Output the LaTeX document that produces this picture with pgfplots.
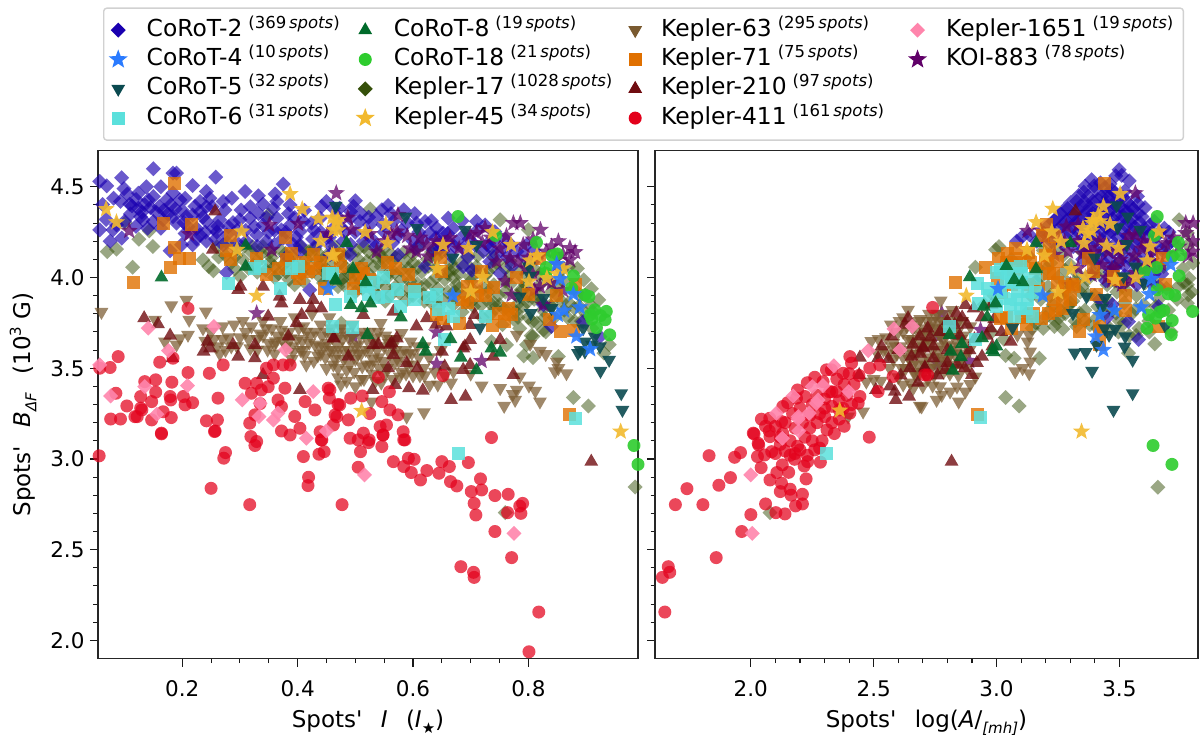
\documentclass[border=0pt]{standalone}
\usepackage{fontspec}
\setmainfont{DejaVu Sans}[Ligatures=TeXOff]
\usepackage{pgfplots}
\pgfplotsset{compat=1.18}

\definecolor{cA}{HTML}{1A00B0}
\definecolor{cB}{HTML}{2A7BFF}
\definecolor{cC}{HTML}{0B4A50}
\definecolor{cD}{HTML}{5BE0DC}
\definecolor{cE}{HTML}{006A2A}
\definecolor{cF}{HTML}{2ECC2E}
\definecolor{cG}{HTML}{35500A}
\definecolor{cH}{HTML}{F2B92E}
\definecolor{cI}{HTML}{7A5A30}
\definecolor{cJ}{HTML}{E07000}
\definecolor{cK}{HTML}{700C10}
\definecolor{cL}{HTML}{E3001B}
\definecolor{cM}{HTML}{FF85AC}
\definecolor{cN}{HTML}{600068}

% filled five-pointed star, the library's "star" is only rays
\pgfdeclareplotmark{fstar}{%
  \pgfpathmoveto{\pgfpointpolar{90}{\pgfplotmarksize}}%
  \pgfpathlineto{\pgfpointpolar{126}{.42\pgfplotmarksize}}%
  \pgfpathlineto{\pgfpointpolar{162}{\pgfplotmarksize}}%
  \pgfpathlineto{\pgfpointpolar{198}{.42\pgfplotmarksize}}%
  \pgfpathlineto{\pgfpointpolar{234}{\pgfplotmarksize}}%
  \pgfpathlineto{\pgfpointpolar{270}{.42\pgfplotmarksize}}%
  \pgfpathlineto{\pgfpointpolar{306}{\pgfplotmarksize}}%
  \pgfpathlineto{\pgfpointpolar{342}{.42\pgfplotmarksize}}%
  \pgfpathlineto{\pgfpointpolar{18}{\pgfplotmarksize}}%
  \pgfpathlineto{\pgfpointpolar{54}{.42\pgfplotmarksize}}%
  \pgfpathclose
  \pgfusepathqfillstroke
}

\pgfplotsset{
  mk/.style n args={5}{only marks,mark=#1,mark size=#2,
    mark options={rotate=#3,draw=#4,fill=#4,line width=0.2pt,fill opacity=#5,draw opacity=0}},
  corot2/.style={mk={square*}{5.3pt}{45}{cA}{#1}},
  corot4/.style={mk={fstar}{9pt}{0}{cB}{#1}},
  corot5/.style={mk={triangle*}{8pt}{180}{cC}{#1}},
  corot6/.style={mk={square*}{6.5pt}{0}{cD}{#1}},
  corot8/.style={mk={triangle*}{8pt}{0}{cE}{#1}},
  corot18/.style={mk={*}{6.5pt}{0}{cF}{#1}},
  kep17/.style={mk={square*}{5.3pt}{45}{cG}{#1}},
  kep45/.style={mk={fstar}{9pt}{0}{cH}{#1}},
  kep63/.style={mk={triangle*}{8pt}{180}{cI}{#1}},
  kep71/.style={mk={square*}{6.5pt}{0}{cJ}{#1}},
  kep210/.style={mk={triangle*}{8pt}{0}{cK}{#1}},
  kep411/.style={mk={*}{6.5pt}{0}{cL}{#1}},
  kep1651/.style={mk={square*}{5.3pt}{45}{cM}{#1}},
  koi883/.style={mk={fstar}{9pt}{0}{cN}{#1}},
  panel/.style={
    scale only axis,
    width=#1,height=508pt,
    ymin=1.9,ymax=4.7,
    ytick={2,2.5,3,3.5,4,4.5},
    yticklabel style={/pgf/number format/fixed,/pgf/number format/fixed zerofill,/pgf/number format/precision=1},
    xticklabel style={/pgf/number format/fixed,/pgf/number format/fixed zerofill},
    /pgf/number format/assume math mode=true,
    minor y tick num=4,
    tick align=outside,
    xtick pos=lower,ytick pos=left,
    major tick length=8pt,minor tick length=4.5pt,
    every tick/.style={line width=1.3pt,black!90},
    minor tick style={line width=1.1pt,black!90},
    axis line style={line width=1.6pt,black!85},
    tick label style={font=\fontsize{21.5}{26}\selectfont},
    label style={font=\fontsize{23}{27}\selectfont},
    xticklabel shift=11pt,xlabel shift=6pt,
    yticklabel shift=2pt,ylabel shift=7pt,
  },
}
\newcommand{\spots}[1]{\hspace{6pt}\raisebox{8pt}{\fontsize{16.5}{16.5}\selectfont (#1\,\textit{spots})}}
\newcommand{\lowered}[1]{\raisebox{-.25em}{\fontsize{15}{15}\selectfont #1}}

\begin{document}
\begin{tikzpicture}[x=1pt,y=1pt]
\path[use as bounding box] (0,0) rectangle (1200,740);

% left panel: spots' intensity
\begin{axis}[panel=540pt,
    at={(98pt,81.5pt)},anchor=south west,
    xmin=0.054,xmax=0.99,
    xtick={0.2,0.4,0.6,0.8},
    xticklabel style={/pgf/number format/precision=1},
    minor x tick num=3,
    xlabel={Spots'\hspace{.8em}\textit{I}\hspace{.8em}(\textit{I}\lowered{★})},
    ylabel={Spots'\hspace{.8em}\textit{B}\lowered{\textit{ΔF}}\hspace{.8em}(10\raisebox{.42em}{\fontsize{15}{15}\selectfont 3} G)},
    legend columns=4,transpose legend,
    legend style={at={(0.0093,1.2815)},anchor=north west,
      draw=black!18,line width=1.4pt,rounded corners=3pt,
      inner xsep=5pt,inner ysep=10pt,
      font=\fontsize{23.4}{27}\selectfont,
      nodes={inner sep=0pt,text height=18pt,text depth=6pt},
      row sep=5.3pt,
      cells={anchor=west},
      /tikz/every even column/.append style={column sep=16pt},
      /tikz/every odd column/.append style={column sep=19pt},
    },
]
\addlegendimage{corot2=1}\addlegendentry{CoRoT-2\spots{369}}
\addlegendimage{corot4=1,mark size=10pt}\addlegendentry{CoRoT-4\spots{10}}
\addlegendimage{corot5=1}\addlegendentry{CoRoT-5\spots{32}}
\addlegendimage{corot6=1}\addlegendentry{CoRoT-6\spots{31}}
\addlegendimage{corot8=1}\addlegendentry{CoRoT-8\spots{19}}
\addlegendimage{corot18=1}\addlegendentry{CoRoT-18\spots{21}}
\addlegendimage{kep17=1}\addlegendentry{Kepler-17\spots{1028}}
\addlegendimage{kep45=1,mark size=10pt}\addlegendentry{Kepler-45\spots{34}}
\addlegendimage{kep63=1}\addlegendentry{Kepler-63\spots{295}}
\addlegendimage{kep71=1}\addlegendentry{Kepler-71\spots{75}}
\addlegendimage{kep210=1}\addlegendentry{Kepler-210\spots{97}}
\addlegendimage{kep411=1}\addlegendentry{Kepler-411\spots{161}\hspace{8pt}\mbox{}}
\addlegendimage{kep1651=1}\addlegendentry{Kepler-1651\spots{19}\hspace{5pt}\mbox{}}
\addlegendimage{koi883=1,mark size=10pt}\addlegendentry{KOI-883\spots{78}}
\addlegendimage{empty legend}\addlegendentry{}
\addlegendimage{empty legend}\addlegendentry{}

\addplot[kep17=.5,forget plot] coordinates {
(.07,4.143)(.086,4.156)(.125,4.211)(.149,4.171)(.114,4.057)(.143,4.257)(.101,4.3)(.254,4.037)(.236,4.097)(.246,4.06)(.3,4.006)(.395,3.96)(.349,4.345)(.526,4.377)(.751,4.318)(.8,4.263)(.896,3.987)(.909,3.938)(.922,3.877)(.94,3.63)(.931,3.583)(.878,3.338)(.904,3.292)(.792,3.568)(.808,3.559)(.852,3.564)(.736,3.647)(.762,3.629)(.797,3.629)(.808,3.675)(.826,3.71)(.476,3.748)(.985,2.845)(.76,2.704)
(.26,4.17)(.275,4.12)(.285,4.08)(.295,4.16)(.305,4.1)(.315,4.05)(.32,4.14)(.33,4.09)(.34,4.17)(.345,4.04)(.355,4.11)(.36,4.0)(.37,4.15)(.375,4.07)(.385,3.99)(.39,4.12)(.4,4.05)(.405,4.17)(.41,3.98)(.415,4.1)(.425,4.03)(.43,4.16)(.44,4.07)(.445,3.97)(.45,4.12)(.46,4.02)(.465,4.17)(.47,3.95)(.475,4.08)(.48,4.0)(.49,4.14)(.495,4.05)(.5,3.92)(.505,4.1)(.51,3.98)(.515,4.17)(.52,4.03)(.53,3.93)(.535,4.11)(.54,3.97)(.545,4.06)(.55,4.16)(.555,4.0)(.56,3.9)(.565,4.09)(.57,3.95)(.58,4.04)(.585,4.14)(.59,3.88)(.595,3.98)(.6,4.08)(.605,3.93)(.61,4.17)(.615,4.03)(.62,3.87)(.625,4.1)(.63,3.97)(.635,3.9)(.64,4.05)(.645,3.84)(.65,4.14)(.655,3.99)(.66,3.92)(.665,4.08)(.67,3.85)(.675,3.96)(.68,4.02)(.685,3.81)(.69,3.9)(.695,4.12)(.7,3.98)(.705,3.84)(.71,4.06)(.715,3.92)(.72,3.78)(.725,4.01)(.73,3.87)(.735,3.8)(.74,3.96)(.745,4.08)(.75,3.85)(.755,3.74)(.76,3.92)(.765,3.82)(.77,4.02)(.775,3.77)(.78,3.9)(.785,3.72)(.79,3.84)(.795,3.96)(.8,3.78)(.805,3.68)(.81,3.88)(.815,3.75)(.82,4.02)(.825,3.82)(.83,3.7)(.84,3.92)(.845,3.78)(.85,4.12)(.86,3.98)(.87,3.86)(.88,3.76)(.885,4.05)(.89,3.9)(.9,3.8)(.91,3.72)
(.42,4.14)(.44,4.12)(.48,4.12)(.52,4.09)(.54,4.14)(.57,4.11)(.6,4.13)(.64,4.11)(.66,4.02)(.7,4.05)(.73,4.03)(.76,4.05)(.79,4.0)(.82,3.96)(.46,4.09)(.5,4.02)(.56,4.03)(.62,3.96)(.68,3.94)(.74,3.86)(.78,3.85)(.6,3.9)(.54,3.9)(.48,3.96)(.44,4.0)(.38,4.03)(.36,4.06)(.33,4.03)
(.263,4.113)(.278,4.192)(.291,4.047)(.308,4.174)(.323,4.067)(.337,4.132)(.352,4.083)(.367,4.021)(.379,4.133)(.392,4.076)(.407,4.022)(.418,4.142)(.433,4.095)(.449,4.048)(.457,3.983)(.468,4.118)(.483,4.056)(.497,3.976)(.507,4.054)(.523,4.143)(.533,3.987)(.547,4.112)(.553,3.948)(.568,4.026)(.577,3.914)(.588,4.093)(.598,4.024)(.607,3.967)(.618,3.908)(.627,4.062)(.637,4.148)(.643,3.938)(.652,3.876)(.663,4.04)(.672,3.922)(.683,4.08)(.692,3.862)(.703,3.935)(.712,4.12)(.718,3.848)(.728,3.952)(.738,4.06)(.748,3.904)(.758,3.826)(.768,3.962)(.778,3.812)(.788,3.934)(.798,3.864)(.807,3.756)(.818,3.902)(.828,3.778)(.838,3.846)(.848,3.95)(.858,3.868)(.868,3.78)(.878,3.94)(.888,3.842)(.898,3.9)(.908,3.846)(.858,4.042)(.835,3.99)(.87,4.06)(.812,4.042)(.788,4.046)(.768,4.09)(.738,4.12)(.712,4.03)(.672,4.05)(.632,4.14)(.592,4.05)(.562,4.13)(.532,4.06)(.503,4.15)(.472,4.13)(.443,4.04)(.412,4.06)(.382,4.09)(.352,4.14)(.322,4.17)(.293,4.12)
(.476,3.99)(.512,3.94)(.552,3.87)(.592,3.94)(.632,3.86)(.672,3.89)(.702,3.87)(.742,3.83)(.782,3.78)(.822,3.87)(.862,3.82)(.892,3.76)(.912,3.81)(.52,3.97)(.58,3.99)(.64,4.0)(.7,4.0)(.76,3.98)(.8,3.9)(.84,3.84)(.49,4.02)(.55,4.09)(.61,4.06)(.67,4.0)(.73,3.92)(.79,3.93)(.85,3.9)(.88,3.83)
};
\addplot[corot2=.65,forget plot] coordinates {
(.15,4.6)(.184,4.575)(.19,4.575)(.258,4.553)(.095,4.55)(.069,4.505)(.057,4.53)(.099,4.49)(.163,4.5)(.218,4.507)(.242,4.474)(.309,4.474)(.375,4.515)(.332,4.45)(.361,4.46)(.124,4.465)(.15,4.447)(.184,4.465)(.205,4.437)(.081,4.437)(.093,4.42)(.109,4.404)(.124,4.382)(.141,4.428)(.173,4.428)(.196,4.428)(.231,4.419)(.248,4.437)(.286,4.437)(.271,4.419)(.34,4.404)(.387,4.4)(.364,4.419)(.242,4.39)(.231,4.364)(.218,4.345)(.207,4.336)(.132,4.318)(.15,4.309)(.167,4.318)(.184,4.336)(.057,4.263)(.086,4.29)(.075,4.2)(.095,4.217)(.08,4.263)(.179,4.147)(.199,4.18)(.231,4.235)(.254,4.272)(.277,4.235)(.242,4.309)(.265,4.318)(.3,4.318)(.317,4.327)(.34,4.29)(.364,4.327)(.387,4.29)(.404,4.254)(.424,4.3)(.329,4.235)(.311,4.2)(.218,4.18)(.242,4.2)(.271,4.18)(.346,4.2)(.375,4.217)(.404,4.18)(.433,4.18)(.277,4.028)(.421,3.932)(.45,4.419)(.462,4.382)(.439,4.327)(.462,4.272)(.456,4.125)(.381,4.116)(.404,4.143)
(.5,4.423)(.492,4.364)(.473,4.382)(.557,4.397)(.546,4.373)(.584,4.373)(.525,4.29)(.508,4.309)(.491,4.327)(.537,4.336)(.566,4.309)(.606,4.3)(.621,4.309)(.641,4.272)(.661,4.327)(.67,4.272)(.629,4.245)(.652,4.245)(.71,4.309)(.725,4.29)(.687,4.16)(.707,4.18)(.676,4.2)(.722,4.143)(.745,4.125)(.756,4.16)(.733,4.088)(.751,4.024)(.687,4.06)(.702,4.04)(.621,4.06)(.574,4.125)(.491,4.125)(.514,4.2)(.479,4.2)(.6,4.2)(.647,4.16)(.797,4.18)(.78,4.143)(.814,4.107)(.826,3.85)(.84,3.73)(.895,3.757)(.924,3.674)
(.12,4.43)(.135,4.4)(.16,4.39)(.18,4.4)(.2,4.37)(.11,4.35)(.13,4.36)(.155,4.36)(.175,4.35)(.19,4.3)(.21,4.28)(.225,4.27)(.24,4.25)(.26,4.25)(.28,4.28)(.295,4.26)(.31,4.26)(.325,4.28)(.35,4.25)(.36,4.26)(.38,4.25)(.395,4.33)(.41,4.31)(.44,4.25)(.45,4.22)(.475,4.28)(.5,4.25)(.52,4.24)(.55,4.25)(.58,4.26)(.61,4.25)(.64,4.22)(.66,4.2)(.69,4.24)(.74,4.2)(.76,4.21)(.77,4.18)(.79,4.12)(.81,4.15)
(.113,4.395)(.128,4.335)(.145,4.385)(.168,4.372)(.188,4.378)(.203,4.302)(.222,4.392)(.236,4.333)(.252,4.39)(.262,4.282)(.274,4.372)(.288,4.302)(.302,4.372)(.318,4.39)(.332,4.352)(.346,4.33)(.358,4.38)(.372,4.262)(.384,4.352)(.398,4.222)(.412,4.37)(.428,4.262)(.442,4.392)(.455,4.222)(.468,4.34)(.482,4.252)(.497,4.392)(.51,4.352)(.523,4.332)(.532,4.202)(.548,4.292)(.562,4.352)(.575,4.232)(.59,4.302)(.603,4.352)(.618,4.202)(.632,4.312)(.645,4.192)(.66,4.242)(.672,4.172)(.685,4.312)(.697,4.212)(.712,4.262)(.728,4.182)(.742,4.252)(.735,4.162)(.763,4.112)(.772,4.062)(.695,4.112)(.665,4.122)(.635,4.152)(.605,4.162)(.565,4.192)(.535,4.172)(.492,4.182)(.458,4.172)(.426,4.212)(.392,4.182)(.36,4.182)(.33,4.172)(.295,4.192)(.258,4.212)(.225,4.212)(.205,4.242)(.163,4.272)(.14,4.272)(.12,4.282)(.1,4.31)(.068,4.32)(.062,4.402)(.105,4.46)(.138,4.5)
};
\addplot[koi883=.75,forget plot] coordinates {
(.467,4.465)(.108,4.257)(.212,4.239)(.351,4.29)(.355,4.153)(.401,4.296)(.329,3.803)(.496,3.675)(.574,4.345)(.494,4.263)(.537,4.143)(.595,4.16)(.572,4.254)(.624,4.18)(.626,4.116)(.606,4.143)(.71,4.245)(.725,4.272)(.641,3.698)(.641,3.524)(.719,3.54)(.771,3.904)(.774,4.3)(.786,4.3)(.821,4.263)(.84,4.171)(.872,4.162)(.881,4.14)(.745,4.088)(.782,4.088)(.768,4.107)(.791,4.18)(.82,3.95)(.826,3.85)(.86,4.125)(.872,4.097)(.831,4.143)(.808,4.014)(.664,4.217)(.699,4.235)(.525,4.24)(.55,4.2)(.59,4.23)(.64,4.2)(.68,4.16)(.72,4.19)(.75,4.16)(.8,4.11)(.85,4.07)(.795,4.05)(.84,3.97)(.86,3.93)(.76,3.98)(.81,3.93)(.452,4.24)(.487,4.33)(.562,4.24)(.612,4.22)(.655,4.18)(.735,4.22)(.762,4.23)(.808,4.21)(.852,4.2)(.828,4.02)
};
\addplot[kep63=.72,forget plot] coordinates {
(.06,3.81)(.181,3.846)(.207,3.877)(.212,3.767)(.241,3.812)(.153,3.767)(.17,3.647)(.196,3.665)(.21,3.684)(.19,3.63)(.236,3.72)(.544,3.748)(.58,3.693)(.596,3.647)(.598,3.583)(.577,3.454)(.619,3.257)(.589,3.233)(.528,3.316)(.67,3.482)(.719,3.404)(.751,3.39)(.785,3.454)(.801,3.404)(.812,3.375)(.82,3.316)(.758,3.292)(.777,3.325)(.78,3.38)(.773,3.357)(.803,3.634)(.83,3.577)(.82,3.595)(.849,3.537)(.852,3.5)(.866,3.472)(.846,3.482)(.78,3.684)(.629,3.408)(.643,3.41)(.666,3.42)(.62,3.46)(.655,3.46)(.7,3.47)
(.24,3.65)(.25,3.7)(.26,3.62)(.27,3.73)(.265,3.58)(.28,3.67)(.29,3.74)(.295,3.62)(.31,3.7)(.315,3.66)(.32,3.73)(.33,3.6)(.335,3.69)(.34,3.76)(.35,3.64)(.355,3.72)(.36,3.58)(.365,3.68)(.37,3.76)(.38,3.62)(.385,3.7)(.39,3.55)(.395,3.78)(.4,3.66)(.405,3.6)(.41,3.73)(.415,3.52)(.42,3.64)(.425,3.8)(.43,3.7)(.435,3.57)(.44,3.74)(.445,3.62)(.45,3.5)(.455,3.78)(.46,3.67)(.465,3.55)(.47,3.45)(.475,3.72)(.48,3.6)(.485,3.49)(.49,3.66)(.495,3.74)(.5,3.55)(.505,3.63)(.51,3.44)(.515,3.7)(.52,3.52)(.525,3.6)(.53,3.47)(.535,3.67)(.54,3.56)(.545,3.42)(.55,3.62)(.555,3.5)(.56,3.58)(.565,3.44)(.57,3.66)(.575,3.54)(.58,3.48)(.585,3.6)(.59,3.52)(.6,3.46)(.61,3.56)(.62,3.62)
(.34,3.68)(.38,3.67)(.41,3.6)(.44,3.58)(.47,3.62)(.5,3.62)(.52,3.66)(.56,3.66)(.45,3.7)(.39,3.62)(.36,3.63)(.43,3.63)(.48,3.55)(.51,3.58)(.46,3.6)(.49,3.52)(.53,3.55)(.57,3.6)(.33,3.66)(.3,3.67)(.27,3.66)(.55,3.46)(.47,3.5)(.485,3.43)(.5,3.4)
(.348,3.602)(.362,3.648)(.372,3.712)(.388,3.665)(.402,3.72)(.412,3.572)(.422,3.68)(.438,3.62)(.448,3.56)(.458,3.72)(.468,3.58)(.478,3.66)(.488,3.6)(.498,3.48)(.508,3.68)(.518,3.6)(.528,3.52)(.538,3.6)(.548,3.54)(.558,3.64)(.568,3.53)(.578,3.58)(.588,3.47)(.598,3.52)(.608,3.62)(.618,3.5)(.628,3.56)(.638,3.48)(.648,3.6)(.392,3.588)(.408,3.65)(.428,3.54)(.442,3.68)(.452,3.64)(.472,3.68)(.482,3.7)(.492,3.58)(.512,3.51)(.532,3.64)(.542,3.5)(.552,3.68)(.462,3.52)(.475,3.41)(.515,3.44)(.535,3.43)(.318,3.61)(.305,3.76)(.285,3.62)(.275,3.6)(.255,3.66)(.345,3.72)(.375,3.65)(.415,3.7)(.455,3.6)(.495,3.68)(.505,3.58)(.525,3.7)(.54,3.7)(.565,3.62)(.592,3.58)(.612,3.46)
};
\addplot[kep210=.8,forget plot] coordinates {
(.257,4.364)(.253,4.153)(.34,3.95)(.297,3.932)(.301,3.95)(.369,3.895)(.372,3.858)(.404,3.877)(.427,3.877)(.424,3.831)(.407,3.794)(.441,3.83)(.349,3.785)(.398,3.748)(.134,3.776)(.158,3.743)(.179,3.68)(.237,3.592)(.244,3.647)(.248,3.61)(.288,3.629)(.297,3.564)(.326,3.629)(.326,3.555)(.183,3.555)(.384,3.675)(.462,3.665)(.34,3.463)(.404,3.38)
(.514,3.794)(.624,3.776)(.606,3.73)(.658,3.73)(.707,3.794)(.699,3.739)(.699,3.656)(.687,3.61)(.751,3.656)(.65,3.592)(.655,3.509)(.687,3.491)(.699,3.518)(.739,3.564)(.774,3.463)(.589,3.528)(.608,3.5)(.557,3.5)(.569,3.408)(.593,3.39)(.617,3.377)(.666,3.325)(.691,3.344)(.53,3.38)(.572,3.665)(.563,3.638)(.531,3.629)(.566,3.574)(.488,3.564)(.463,3.665)(.909,2.985)(.566,3.812)(.56,3.63)(.54,3.63)(.64,3.74)(.69,3.62)
};
\addplot[kep411=.72,forget plot] coordinates {
(.089,3.564)(.075,3.504)(.057,3.5)(.161,3.533)(.184,3.555)(.21,3.476)(.247,3.472)(.271,3.518)(.21,3.83)(.135,3.426)(.154,3.436)(.182,3.423)(.085,3.362)(.154,3.368)(.128,3.344)(.179,3.344)(.202,3.344)(.262,3.335)(.104,3.292)(.128,3.28)(.147,3.316)(.18,3.325)(.205,3.298)(.218,3.31)(.13,3.27)(.118,3.233)(.122,3.233)(.147,3.215)(.167,3.26)(.181,3.228)(.076,3.22)(.093,3.22)(.242,3.21)(.261,3.215)(.257,3.154)(.164,3.142)(.309,3.417)(.329,3.417)(.32,3.362)(.349,3.398)(.358,3.445)(.346,3.5)(.358,3.518)(.375,3.518)(.387,3.518)(.337,3.38)(.378,3.39)(.366,3.325)(.372,3.288)(.335,3.305)(.326,3.243)(.317,3.197)(.329,3.096)(.372,3.154)(.395,3.234)(.387,3.132)(.404,3.169)(.413,3.316)(.43,3.27)(.453,3.39)(.455,3.335)(.439,3.15)(.442,3.105)(.47,3.3)(.462,3.187)(.465,3.243)
(.54,3.45)(.652,3.46)(.492,3.335)(.512,3.347)(.559,3.37)(.546,3.316)(.473,3.298)(.56,3.27)(.574,3.243)(.736,3.118)(.456,3.38)(.525,3.25)(.468,3.233)(.488,3.215)(.554,3.187)(.543,3.178)(.548,3.132)(.583,3.15)(.586,3.105)(.514,3.142)(.491,3.114)(.505,3.105)(.524,3.105)
(.056,3.017)(.164,3.138)(.256,3.151)(.319,3.123)(.326,3.074)(.275,3.035)(.272,3.004)(.25,2.838)(.317,2.748)(.41,3.013)(.419,2.899)(.418,2.853)(.437,3.026)(.446,3.04)(.441,3.105)(.477,2.748)(.505,2.954)(.509,3.04)(.523,3.09)(.546,3.068)(.548,3.132)(.566,2.985)(.584,2.958)(.584,3.105)(.592,3.004)(.602,2.998)(.597,2.925)(.613,2.884)(.624,2.936)(.645,2.921)(.65,2.985)(.663,2.958)(.665,2.875)(.676,2.851)(.696,2.98)(.701,2.82)(.717,2.89)(.719,2.829)(.742,2.798)(.706,2.755)(.709,2.691)(.742,2.6)(.765,2.805)(.764,2.704)(.787,2.7)(.785,2.74)(.79,2.755)(.771,2.456)(.683,2.406)(.705,2.375)(.706,2.347)(.818,2.156)(.801,1.937)
};
\addplot[kep1651=.9,forget plot] coordinates {
(.141,3.721)(.255,3.73)(.176,3.597)(.057,3.518)(.076,3.347)(.135,3.399)(.209,3.404)(.156,3.246)(.379,3.601)(.304,3.325)(.335,3.307)(.333,3.233)(.358,3.215)(.366,3.252)(.427,3.371)(.415,3.114)(.45,3.154)(.516,2.912)(.775,2.59)
};
\addplot[kep71=.8,forget plot] coordinates {
(.186,4.52)(.167,4.3)(.216,4.29)(.284,4.23)(.187,4.167)(.196,4.107)(.213,4.107)(.18,4.057)(.115,3.975)(.277,4.147)(.283,4.097)(.328,4.103)(.379,4.22)(.389,4.134)(.346,4.015)(.366,4.05)(.427,4.129)(.381,4.097)(.404,3.996)(.439,4.08)(.418,4.033)(.447,3.94)(.47,4.129)(.511,4.052)(.514,4.024)(.555,4.085)(.57,4.052)(.593,4.018)(.496,3.941)(.648,4.11)(.65,4.033)(.602,3.932)(.641,3.794)(.652,3.776)(.681,3.748)(.686,3.88)(.695,3.95)(.71,3.95)(.719,4.033)(.726,3.9)(.739,3.945)(.78,4.0)(.8,3.908)(.748,3.803)(.765,3.831)(.771,3.794)(.759,3.757)(.737,3.733)(.848,3.9)(.837,3.767)(.856,3.702)(.878,3.706)(.82,4.107)(.881,3.96)(.872,3.243)(.5,4.0)(.525,3.99)(.41,4.08)(.43,4.05)(.455,4.03)(.475,4.06)(.4,4.03)(.695,3.86)(.712,3.9)
};
\addplot[corot6=.85,forget plot] coordinates {
(.28,3.969)(.326,4.048)(.37,3.937)(.401,4.06)(.389,4.05)(.453,4.024)(.465,3.853)(.461,3.73)(.495,3.724)(.491,3.895)(.522,3.904)(.531,3.974)(.548,4.002)(.54,3.89)(.555,3.895)(.573,3.932)(.578,3.84)(.603,3.923)(.603,3.877)(.628,3.89)(.641,3.904)(.644,3.822)(.662,3.831)(.671,3.785)(.725,3.785)(.655,3.656)(.881,3.224)(.679,3.031)(.46,4.02)(.335,4.06)(.52,3.95)
};
\addplot[corot8=.9,forget plot] coordinates {
(.164,4.0)(.31,4.176)(.31,4.06)(.465,3.983)(.485,4.19)(.496,4.046)(.518,3.974)(.466,3.987)(.492,3.849)(.511,3.831)(.526,3.858)(.579,3.78)(.521,3.684)(.617,3.634)(.622,3.592)(.665,3.66)(.683,3.559)(.71,3.489)(.736,3.61)(.751,3.586)
};
\addplot[corot5=.9,forget plot] coordinates {
(.466,4.395)(.587,4.336)(.607,4.272)(.69,4.263)(.71,4.18)(.669,4.11)(.716,3.724)(.785,3.895)(.801,4.061)(.803,4.009)(.826,3.886)(.84,3.831)(.804,3.803)(.895,3.72)(.898,3.647)(.915,3.674)(.886,3.583)(.898,3.592)(.924,3.62)(.94,3.546)(.925,3.485)(.961,3.362)(.963,3.27)(.89,3.6)(.91,3.63)
};
\addplot[corot18=.9,forget plot] coordinates {
(.678,4.336)(.743,4.232)(.814,4.193)(.841,4.121)(.831,4.055)(.83,4.024)(.878,4.009)(.875,3.941)(.898,3.904)(.905,3.895)(.915,3.822)(.935,3.813)(.907,3.794)(.933,3.767)(.918,3.724)(.941,3.684)(.983,3.074)(.99,2.97)(.85,4.13)(.925,3.79)(.91,3.77)
};
\addplot[kep45=.9,forget plot] coordinates {
(.068,4.377)(.086,4.305)(.387,4.46)(.408,4.377)(.303,4.254)(.295,4.153)(.44,4.202)(.436,4.324)(.467,4.3)(.462,4.263)(.459,4.12)(.329,3.899)(.47,4.318)(.517,4.25)(.553,4.294)(.556,4.189)(.652,4.18)(.642,4.048)(.696,4.162)(.721,4.002)(.7,3.923)(.77,4.18)(.803,4.094)(.801,3.978)(.832,3.996)(.86,4.05)(.511,3.265)(.96,3.151)(.462,4.125)(.47,4.26)(.738,4.25)(.46,4.33)(.815,4.12)(.85,4.02)
};
\addplot[corot4=.9,forget plot] coordinates {
(.849,4.074)(.855,3.991)(.878,3.908)(.889,3.836)(.862,3.818)(.851,3.794)(.883,3.675)(.907,3.605)(.669,3.901)(.453,3.938)
};
\end{axis}

% right panel: spots' area
\begin{axis}[panel=543pt,
    at={(655pt,81.5pt)},anchor=south west,
    xmin=1.61,xmax=3.82,
    xtick={2,2.5,3,3.5},
    xticklabel style={/pgf/number format/precision=1},
    minor x tick num=4,
    yticklabels={},
    xlabel={Spots'\hspace{.8em}log(\textit{A}/\lowered{\textit{[mh]}})},
]
\addplot[kep17=.5] coordinates {
(3.037,3.57)(3.072,3.555)(3.174,3.555)(2.996,4.153)(3.01,4.17)(2.914,4.057)(3.037,3.338)(3.092,3.292)(3.644,3.634)(3.537,3.583)(3.743,4.318)(3.777,4.245)(3.781,3.904)(3.777,3.96)(3.784,3.996)(3.777,3.858)(3.657,2.844)(2.078,2.704)(3.27,3.716)(3.235,3.73)(3.19,3.72)(3.145,3.72)(3.03,3.66)(2.98,3.7)(3.14,3.9)(2.95,3.85)(2.99,3.9)
(3.06,4.1)(3.08,3.98)(3.1,4.05)(3.12,3.8)(3.13,4.12)(3.15,3.95)(3.16,3.75)(3.17,4.05)(3.18,3.88)(3.19,4.15)(3.2,3.78)(3.21,3.95)(3.22,4.08)(3.23,3.85)(3.24,3.76)(3.25,4.0)(3.26,3.9)(3.27,4.12)(3.28,3.8)(3.29,3.97)(3.3,4.07)(3.31,3.87)(3.32,3.76)(3.33,4.02)(3.34,3.92)(3.35,4.14)(3.36,3.82)(3.37,3.99)(3.38,3.74)(3.39,4.09)(3.4,3.9)(3.41,3.78)(3.42,4.02)(3.43,3.86)(3.44,4.15)(3.45,3.96)(3.46,3.72)(3.47,3.82)(3.48,4.06)(3.49,3.92)(3.5,3.76)(3.51,4.15)(3.52,3.86)(3.53,3.98)(3.54,3.68)(3.55,3.8)(3.56,4.09)(3.57,3.9)(3.58,3.72)(3.6,3.85)(3.62,3.76)(3.64,3.98)(3.66,3.88)(3.68,4.06)(3.7,3.82)(3.72,4.12)(3.74,3.95)(3.76,4.05)(3.78,4.18)(3.8,4.08)(3.71,3.7)
(3.3,3.86)(3.35,3.95)(3.4,4.02)(3.32,3.98)(3.26,3.82)(3.22,3.9)(3.18,4.0)(3.28,4.04)(3.36,3.76)(3.44,3.8)(3.48,3.98)(3.52,3.75)(3.24,4.16)(3.16,3.98)
(3.212,3.813)(3.254,3.776)(3.292,3.842)(3.338,3.803)(3.372,3.904)(3.412,3.84)(3.452,3.876)(3.486,3.804)(3.528,3.928)(3.566,3.826)(3.605,3.97)(3.648,3.84)(3.692,3.94)(3.735,3.88)(3.762,3.97)(3.795,3.92)(3.326,3.73)(3.412,3.72)(3.496,3.7)(3.568,3.68)(3.622,3.7)(3.284,3.92)(3.204,4.05)
};
\addplot[corot2=.65] coordinates {
(3.499,4.594)(3.485,4.56)(3.51,4.563)(3.387,4.539)(3.423,4.522)(3.462,4.516)(3.54,4.533)(3.361,4.503)(3.404,4.483)(3.441,4.496)(3.483,4.468)(3.522,4.476)(3.334,4.452)(3.372,4.446)(3.412,4.431)(3.454,4.44)(3.491,4.427)(3.533,4.416)(3.574,4.447)(3.302,4.413)(3.344,4.397)(3.381,4.388)(3.424,4.383)(3.463,4.372)(3.503,4.391)(3.556,4.377)(3.604,4.385)(3.273,4.37)(3.313,4.348)(3.353,4.342)(3.392,4.352)(3.434,4.337)(3.474,4.322)(3.513,4.34)(3.552,4.329)(3.592,4.336)(3.244,4.327)(3.283,4.312)(3.322,4.305)(3.364,4.288)(3.404,4.296)(3.443,4.281)(3.482,4.272)(3.523,4.29)(3.563,4.278)(3.603,4.27)(3.642,4.31)(3.212,4.288)(3.254,4.27)(3.294,4.256)(3.333,4.251)(3.373,4.237)(3.412,4.228)(3.452,4.235)(3.494,4.221)(3.533,4.229)(3.572,4.215)(3.612,4.224)(3.651,4.226)(3.683,4.272)(3.192,4.246)(3.133,4.236)(3.082,4.2)(3.104,4.225)(3.163,4.2)(3.224,4.197)(3.271,4.183)(3.312,4.17)(3.352,4.158)(3.392,4.165)(3.431,4.15)(3.472,4.143)(3.512,4.13)(3.552,4.148)(3.592,4.137)(3.632,4.144)(3.672,4.153)(3.713,4.2)(3.351,4.1)(3.402,4.082)(3.443,4.074)(3.481,4.053)(3.522,4.065)(3.562,4.034)(3.602,4.052)(3.643,4.064)(3.672,4.02)(3.382,4.02)(3.444,3.982)(3.503,3.972)(3.571,3.96)(3.624,3.975)(3.661,3.95)(3.42,3.88)(3.472,3.85)(3.537,3.757)(3.578,3.658)(3.45,3.78)(3.66,3.84)
(3.398,4.505)(3.448,4.458)(3.47,4.482)(3.355,4.47)(3.428,4.446)(3.392,4.42)(3.473,4.41)(3.514,4.442)(3.546,4.395)(3.326,4.42)(3.363,4.41)(3.443,4.405)(3.484,4.395)(3.522,4.368)(3.576,4.405)(3.29,4.38)(3.332,4.372)(3.373,4.362)(3.414,4.355)(3.453,4.352)(3.49,4.348)(3.532,4.362)(3.575,4.352)(3.262,4.35)(3.302,4.33)(3.343,4.318)(3.384,4.318)(3.423,4.31)(3.462,4.3)(3.503,4.308)(3.544,4.302)(3.584,4.302)(3.624,4.29)(3.232,4.308)(3.272,4.29)(3.313,4.278)(3.352,4.27)(3.392,4.268)(3.433,4.255)(3.47,4.25)(3.512,4.256)(3.553,4.25)(3.592,4.248)(3.632,4.248)(3.663,4.25)(3.702,4.25)(3.23,4.25)(3.28,4.225)(3.322,4.215)(3.363,4.205)(3.402,4.2)(3.442,4.19)(3.482,4.185)(3.522,4.19)(3.563,4.18)(3.602,4.18)(3.643,4.185)(3.692,4.17)(3.37,4.13)(3.42,4.115)(3.462,4.105)(3.502,4.09)(3.542,4.1)(3.582,4.09)(3.622,4.1)(3.462,4.03)(3.522,4.01)(3.592,4.01)(3.642,4.02)
};
\addplot[koi883=.75] coordinates {
(3.565,4.465)(2.777,3.803)(2.763,3.675)(2.763,3.524)(2.889,3.54)(2.935,3.711)(3.126,4.257)(3.284,4.281)(3.332,4.29)(3.291,4.143)(3.373,4.162)(3.428,4.07)(3.503,4.097)(3.565,4.235)(3.64,4.143)(3.578,4.06)(3.51,3.96)(3.482,4.05)(3.387,4.015)(3.332,4.051)(3.688,4.189)(3.77,4.3)(3.8,4.3)(3.77,4.245)(3.798,4.143)(3.743,4.171)(3.565,4.024)(3.544,3.978)(3.592,4.16)(3.674,4.07)(3.455,4.143)(3.524,4.189)(3.236,4.125)(3.277,4.198)(3.2,4.22)(3.33,4.2)(3.42,4.2)(3.5,4.15)(3.56,4.12)(3.61,4.05)(3.45,4.0)(3.38,4.1)(3.6,4.2)(3.66,4.25)(3.72,4.22)(3.8,4.2)(3.78,4.12)(3.3,3.96)(3.18,4.26)(3.47,4.05)(3.54,4.23)(3.4,4.14)(3.63,4.09)(3.69,4.13)(3.47,3.98)(3.35,4.13)
};
\addplot[kep63=.72] coordinates {
(2.773,3.873)(2.695,3.289)(2.756,3.325)(2.777,3.353)(2.74,3.404)(2.77,3.4)(2.811,3.371)(2.839,3.399)(2.846,3.316)(2.873,3.371)(2.893,3.412)(2.914,3.454)(3.076,3.482)(3.106,3.5)(3.133,3.472)(3.137,3.537)(3.137,3.592)(3.126,3.647)(3.133,3.684)(3.085,3.684)(2.893,3.73)(2.64,3.822)(2.688,3.292)(2.457,3.261)(2.396,3.233)(2.47,3.426)(2.661,3.39)(2.62,3.41)(2.53,3.43)(2.5,3.44)
(2.49,3.65)(2.52,3.66)(2.55,3.67)(2.54,3.6)(2.57,3.74)(2.58,3.55)(2.6,3.7)(2.61,3.62)(2.62,3.78)(2.63,3.5)(2.64,3.66)(2.65,3.74)(2.66,3.58)(2.67,3.46)(2.68,3.7)(2.69,3.77)(2.7,3.54)(2.71,3.65)(2.72,3.44)(2.73,3.73)(2.74,3.6)(2.75,3.79)(2.76,3.5)(2.77,3.68)(2.78,3.56)(2.79,3.74)(2.8,3.63)(2.81,3.47)(2.82,3.82)(2.83,3.58)(2.84,3.7)(2.85,3.53)(2.86,3.76)(2.87,3.64)(2.88,3.5)(2.89,3.6)(2.6,3.45)(2.65,3.42)(2.7,3.4)
(2.62,3.56)(2.64,3.6)(2.66,3.72)(2.68,3.62)(2.7,3.72)(2.72,3.56)(2.74,3.68)(2.76,3.6)(2.78,3.66)(2.8,3.55)(2.82,3.7)(2.68,3.52)(2.72,3.64)(2.7,3.6)(2.66,3.66)(2.74,3.52)(2.76,3.72)(2.78,3.76)(2.82,3.62)(2.84,3.6)(2.86,3.56)(2.72,3.76)(2.7,3.68)(2.76,3.8)(2.74,3.76)(2.8,3.7)(2.66,3.52)(2.62,3.7)(2.58,3.64)(2.56,3.58)
(2.635,3.73)(2.655,3.65)(2.675,3.58)(2.695,3.64)(2.715,3.7)(2.735,3.64)(2.755,3.56)(2.775,3.62)(2.795,3.68)(2.815,3.58)(2.835,3.65)(2.855,3.66)(2.875,3.58)(2.645,3.55)(2.665,3.48)(2.685,3.47)(2.705,3.48)(2.725,3.5)(2.745,3.46)(2.765,3.54)(2.785,3.48)(2.805,3.52)(2.825,3.5)(2.845,3.46)(2.615,3.5)(2.595,3.58)(2.575,3.62)(2.515,3.58)(2.605,3.76)(2.685,3.76)(2.725,3.8)(2.795,3.8)(2.565,3.5)(2.745,3.72)(2.765,3.76)(2.785,3.7)(2.805,3.76)(2.845,3.76)(2.865,3.68)
};
\addplot[kep210=.8] coordinates {
(2.444,3.559)(2.518,3.555)(2.441,3.463)(2.509,3.38)(2.586,3.371)(2.59,3.325)(2.644,3.344)(2.566,3.4)(2.532,3.62)(2.573,3.675)(2.627,3.74)(2.64,3.776)(2.688,3.675)(2.701,3.616)(2.654,3.564)(2.647,3.5)(2.708,3.504)(3.321,4.364)(2.702,3.61)(2.743,3.62)(2.9,3.463)(2.941,3.564)(2.873,3.849)(2.907,3.83)(2.836,3.803)(3.058,3.647)(2.976,3.72)(2.983,3.62)(2.709,3.5)(2.791,3.491)(2.743,3.555)(2.817,2.985)
(2.73,3.67)(2.77,3.7)(2.8,3.6)(2.85,3.68)(2.88,3.74)(2.91,3.66)(2.94,3.78)(2.96,3.68)(2.99,3.77)(3.02,3.7)(2.86,3.78)(2.89,3.6)(2.84,3.52)(2.76,3.46)(2.98,3.85)(2.83,3.74)(2.68,3.42)(2.61,3.46)(2.56,3.55)(2.6,3.6)(2.69,3.58)(2.72,3.72)(2.8,3.76)(2.92,3.53)(2.87,3.5)(2.8,3.53)(2.66,3.63)
};
\addplot[kep411=.72] coordinates {
(1.65,2.156)(1.64,2.347)(1.67,2.375)(1.664,2.406)(1.859,2.456)(1.963,2.6)(2.0,2.693)(1.693,2.748)(1.805,2.748)(1.74,2.836)(1.87,2.855)(1.917,2.897)(1.83,3.018)(1.934,3.009)(1.958,3.035)(2.027,3.013)(2.056,3.022)(2.085,3.04)(2.078,3.123)(2.042,2.952)(2.078,2.884)(2.106,2.925)(2.06,2.752)(2.102,2.704)(2.139,2.697)(2.182,2.741)(2.21,2.752)(2.21,2.805)(2.164,2.8)(2.12,2.82)(2.16,2.833)(2.125,2.866)(2.225,2.89)(2.154,2.926)(2.128,2.967)(2.217,2.961)(2.231,2.985)(2.283,2.982)(2.178,2.998)(2.139,3.044)(2.032,3.077)(2.482,3.12)(2.013,3.138)
(2.01,3.142)(2.03,3.086)(2.043,3.219)(2.077,3.224)(2.075,3.154)(2.13,3.289)(2.125,3.206)(2.403,3.564)(2.41,3.528)(2.328,3.491)(2.308,3.491)(2.376,3.472)(2.349,3.371)(2.294,3.426)(2.33,3.37)(2.444,3.344)(2.437,3.307)(2.403,3.252)(2.376,3.279)(2.301,3.233)(2.22,3.344)(2.186,3.335)(2.579,3.454)(2.74,3.835)(2.518,3.371)(2.484,3.5)(2.525,3.518)(2.708,3.463)(2.72,3.463)
(2.1,3.18)(2.13,3.14)(2.16,3.1)(2.19,3.07)(2.22,3.12)(2.25,3.1)(2.28,3.06)(2.31,3.16)(2.33,3.2)(2.36,3.22)(2.18,3.17)(2.21,3.2)(2.24,3.17)(2.27,3.2)(2.3,3.28)(2.33,3.29)(2.36,3.32)(2.39,3.35)(2.42,3.41)(2.27,3.35)(2.25,3.3)(2.2,3.28)(2.17,3.25)(2.15,3.31)(2.19,3.38)(2.23,3.42)(2.26,3.45)(2.3,3.33)(2.35,3.44)(2.38,3.41)(2.44,3.46)(2.4,3.47)(2.14,3.2)(2.1,3.03)(2.12,3.08)(2.16,3.02)(2.18,3.03)(2.2,3.05)(2.23,3.02)(2.26,3.05)(2.29,3.1)(2.34,3.14)(2.38,3.18)(2.24,3.24)(2.28,3.25)(2.32,3.37)(2.36,3.27)(2.41,3.3)(2.06,3.18)(2.12,3.12)
};
\addplot[kep1651=.9] coordinates {
(2.583,3.717)(2.657,3.73)(2.607,3.601)(2.478,3.597)(2.338,3.513)(2.294,3.404)(2.399,3.371)(2.172,3.347)(2.25,3.399)(2.274,3.325)(2.267,3.307)(2.237,3.252)(2.193,3.233)(2.193,3.221)(2.104,3.252)(2.195,3.154)(2.128,3.114)(2.0,2.912)(2.006,2.59)
};
\addplot[kep71=.8] coordinates {
(3.441,4.52)(2.832,3.975)(2.955,4.057)(3.01,4.107)(3.078,4.162)(3.044,4.134)(3.202,4.29)(3.188,4.232)(3.236,4.226)(3.215,4.162)(3.25,4.088)(3.215,4.024)(3.099,4.107)(3.003,3.996)(3.017,3.776)(3.12,3.739)(3.181,3.776)(3.211,3.803)(3.27,3.831)(3.277,3.95)(3.318,3.95)(3.352,3.767)(3.339,3.702)(3.373,4.107)(3.393,4.033)(3.407,3.904)(3.476,4.005)(3.524,3.9)(3.524,3.818)(3.428,3.702)(3.421,3.629)(3.661,3.73)(3.688,3.96)(3.674,4.107)(2.921,3.243)(3.208,4.079)(3.071,4.005)(3.04,4.08)(3.08,4.08)(3.13,4.14)(3.16,4.05)(3.02,3.92)(3.06,3.96)(3.13,3.96)(3.17,3.94)(3.25,3.97)(3.27,3.9)(3.23,3.88)(3.06,3.72)(3.1,3.78)(3.15,3.8)(3.24,3.82)(3.3,3.88)(3.14,4.08)(3.2,4.12)(3.23,4.02)(3.04,3.78)(3.42,3.73)(3.5,3.99)(3.31,3.96)
};
\addplot[corot6=.85] coordinates {
(2.935,3.228)(2.809,3.73)(2.914,3.656)(2.921,3.969)(2.962,3.941)(2.928,3.858)(3.017,4.042)(3.099,4.06)(3.044,4.05)(3.154,3.996)(3.126,3.923)(3.085,3.923)(3.03,3.886)(3.017,3.923)(3.058,3.85)(3.099,3.831)(3.072,3.785)(3.147,3.785)(3.126,3.877)(2.31,3.031)(3.06,3.98)(3.1,3.97)(3.08,3.88)(3.04,3.97)(3.0,3.84)(3.1,4.02)(3.0,4.03)(3.16,3.92)(3.05,4.02)(3.12,3.83)(2.97,3.9)
};
\addplot[corot8=.9] coordinates {
(2.891,4.002)(3.04,4.064)(3.072,3.987)(3.106,3.974)(3.161,4.189)(3.161,4.046)(3.3,4.189)(2.996,3.858)(2.948,3.84)(2.962,3.781)(2.809,3.684)(2.941,3.666)(2.982,3.601)(2.989,3.588)(2.859,3.634)(2.814,3.592)(2.855,3.561)(2.822,3.487)(3.0,3.62)
};
\addplot[corot5=.9] coordinates {
(3.489,4.397)(3.534,4.336)(3.493,4.276)(3.585,4.263)(3.53,4.184)(3.565,4.06)(3.517,4.006)(3.4,4.11)(3.366,3.895)(3.441,3.886)(3.311,3.803)(3.428,3.831)(3.065,3.724)(3.483,3.717)(3.458,3.684)(3.524,3.675)(3.521,3.619)(3.318,3.586)(3.363,3.588)(3.554,3.546)(3.389,3.485)(3.554,3.362)(3.476,3.27)(3.407,3.629)(3.688,3.73)(3.599,3.969)(3.44,3.72)
};
\addplot[corot18=.9] coordinates {
(3.654,4.336)(3.643,4.232)(3.74,4.193)(3.75,4.125)(3.715,4.116)(3.603,4.033)(3.651,4.055)(3.743,4.009)(3.654,3.932)(3.699,3.91)(3.726,3.901)(3.681,3.818)(3.798,3.813)(3.619,3.794)(3.647,3.776)(3.715,3.763)(3.612,3.72)(3.711,3.684)(3.637,3.074)(3.714,2.97)(3.665,3.81)
};
\addplot[kep45=.9] coordinates {
(3.161,4.305)(3.124,4.153)(3.195,4.121)(3.229,4.379)(3.225,4.254)(3.263,4.198)(3.304,4.046)(3.362,4.002)(3.25,3.919)(2.877,3.9)(3.356,4.189)(3.352,4.272)(3.387,4.257)(3.393,4.318)(3.435,4.392)(3.414,4.345)(3.462,4.294)(3.503,4.461)(3.448,4.176)(3.496,4.162)(3.626,4.171)(3.613,4.094)(3.482,3.987)(3.567,4.0)(3.661,4.254)(3.346,3.151)(2.362,3.267)(3.39,4.3)(3.42,4.31)(3.37,4.24)
};
\addplot[corot4=.9] coordinates {
(3.006,3.938)(3.188,3.901)(3.709,4.07)(3.63,3.991)(3.622,3.908)(3.589,3.836)(3.48,3.818)(3.421,3.794)(3.403,3.675)(3.435,3.601)
};
\end{axis}
\end{tikzpicture}
\end{document}
